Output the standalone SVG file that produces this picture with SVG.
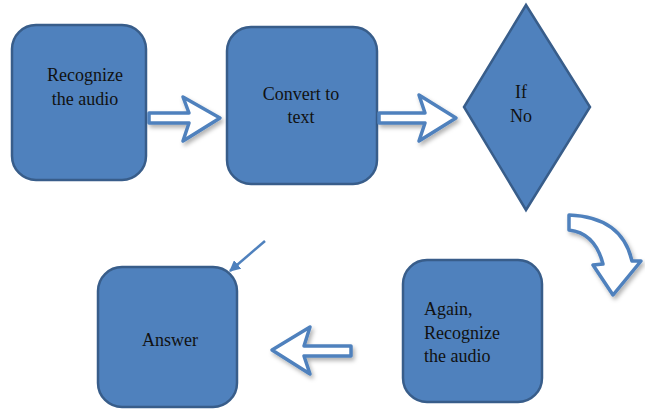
<svg xmlns="http://www.w3.org/2000/svg" width="645" height="412" viewBox="0 0 645 412">
<defs>
<style>
.box{fill:#4f81bd;stroke:#385d8a;stroke-width:2.5}
.blk{fill:#fff;stroke:#4f81bd;stroke-width:3.5;stroke-linejoin:round}
text{font-family:"Liberation Serif","Times New Roman",serif;font-size:18px;fill:#111}
.c{text-anchor:middle}
.line{stroke:#4f81bd;stroke-width:2.5;fill:none}
</style>
<filter id="sh" x="-20%" y="-20%" width="150%" height="150%">
<feDropShadow dx="2" dy="3" stdDeviation="2" flood-color="#000" flood-opacity="0.3"/>
</filter>
<marker id="ah" viewBox="0 0 10 10" refX="9" refY="5" markerWidth="4.5" markerHeight="4.5" orient="auto">
<path d="M0,0 L10,5 L0,10 Z" fill="#4f81bd"/>
</marker>
</defs>
<rect width="645" height="412" fill="#fff"/>
<g id="recognize">
<rect class="box" x="12" y="25" width="134" height="155" rx="24"/>
<text class="c" x="85" y="81">Recognize</text>
<text class="c" x="85" y="105">the audio</text>
</g>
<g id="convert">
<rect class="box" x="227" y="27" width="150" height="157" rx="24"/>
<text class="c" x="301" y="100">Convert to</text>
<text class="c" x="301" y="123">text</text>
</g>
<g id="ifno">
<polygon class="box" points="526,5 590,107 526,210 464,107"/>
<text class="c" x="521" y="98">If</text>
<text class="c" x="521" y="122">No</text>
</g>
<g id="again">
<rect class="box" x="403" y="260" width="139" height="142" rx="24"/>
<text x="424" y="315">Again,</text>
<text x="424" y="339">Recognize</text>
<text x="424" y="362">the audio</text>
</g>
<g id="answer">
<rect class="box" x="98" y="267" width="139" height="140" rx="24"/>
<text class="c" x="170" y="346">Answer</text>
</g>
<g id="connectors">
<path class="blk" filter="url(#sh)" d="M149,113 L189,113 L183,97 L220,118 L183,141 L189,123 L149,123 Z"/>
<path class="blk" filter="url(#sh)" d="M379,113 L425,113 L419,95 L456,118 L419,141 L425,123 L379,123 Z"/>
<path class="blk" filter="url(#sh)" d="M569,215 Q622,217 632,261 L641,261 L613,295 L593,265 L603,264 Q595,233 569,230 Z"/>
<path class="blk" filter="url(#sh)" d="M351,346 L304,346 L310,327 L272,350 L310,374 L304,356 L351,356 Z"/>
<line class="line" x1="265" y1="241" x2="230" y2="271" marker-end="url(#ah)"/>
</g>
</svg>
